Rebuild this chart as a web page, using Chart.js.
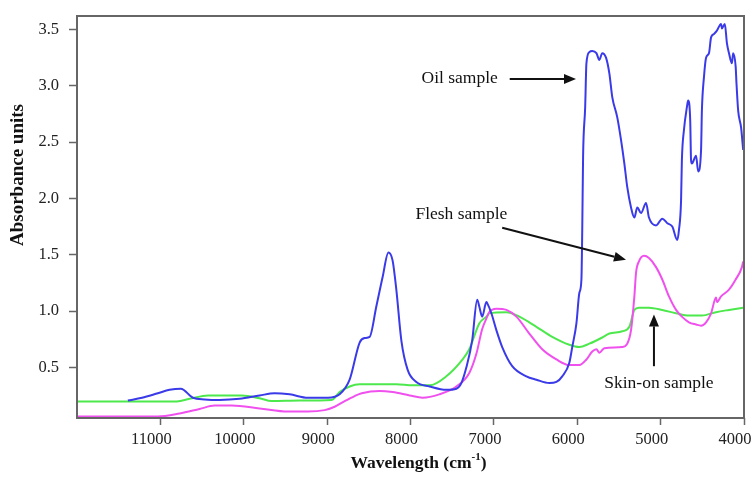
<!DOCTYPE html>
<html>
<head>
<meta charset="utf-8">
<script src="https://cdn.jsdelivr.net/npm/chart.js@4.4.1/dist/chart.umd.min.js"></script>
<style>
  html, body { margin: 0; padding: 0; background: #fff; }
  #wrap { width: 755px; height: 477px; }
</style>
</head>
<body>
<div id="wrap"><canvas id="nirChart" width="755" height="477"></canvas></div>
<script>
// NIR spectra: wavenumber (cm-1) against absorbance
const oilWave = [11390, 11220, 11030, 10890, 10755, 10610, 10470, 10290, 10050, 9810, 9630, 9450, 9230, 8990,
  8850, 8730, 8610, 8550, 8490, 8410, 8335, 8265, 8215, 8170, 8110, 8035, 7930, 7770, 7570, 7450, 7390, 7330,
  7260, 7200, 7175, 7140, 7090, 7080, 7030, 6970, 6900, 6780, 6610, 6490, 6335, 6250, 6180, 6095, 6060, 6010,
  5975, 5950, 5940, 5930, 5905, 5890, 5855, 5820, 5770, 5735, 5700, 5655, 5615, 5580, 5520, 5475, 5435, 5400,
  5355, 5315, 5280, 5235, 5175, 5140, 5055, 4980, 4920, 4860, 4800, 4780, 4755, 4745, 4720, 4685, 4670, 4645,
  4635, 4625, 4575, 4550, 4515, 4505, 4480, 4455, 4420, 4395, 4360, 4325, 4275, 4265, 4230, 4205, 4180, 4145,
  4130, 4100, 4090, 4070, 4035, 4010];
const oilAbs = [0.205, 0.23, 0.27, 0.30, 0.31, 0.23, 0.215, 0.21, 0.22, 0.25, 0.27, 0.26, 0.23, 0.23,
  0.26, 0.39, 0.72, 0.76, 0.77, 1.04, 1.30, 1.52, 1.45, 1.19, 0.74, 0.48, 0.37, 0.33, 0.30, 0.31, 0.36, 0.50,
  0.74, 1.10, 1.04, 0.95, 1.08, 1.07, 0.98, 0.83, 0.68, 0.51, 0.42, 0.39, 0.36, 0.37, 0.42, 0.54, 0.68, 0.89,
  1.16, 1.28, 1.72, 2.37, 2.81, 3.20, 3.30, 3.31, 3.29, 3.23, 3.29, 3.25, 3.11, 2.90, 2.72, 2.52, 2.31, 2.10,
  1.92, 1.83, 1.92, 1.87, 1.96, 1.83, 1.76, 1.82, 1.78, 1.75, 1.63, 1.72, 1.98, 2.34, 2.61, 2.81, 2.87, 2.69,
  2.34, 2.31, 2.38, 2.24, 2.43, 2.78, 3.08, 3.25, 3.29, 3.43, 3.46, 3.49, 3.55, 3.51, 3.55, 3.38, 3.29, 3.20,
  3.29, 3.17, 3.02, 2.78, 2.63, 2.43];

const fleshWave = [12000, 11030, 10770, 10530, 10350, 10145, 9810, 9470, 9230, 9030, 8910, 8790, 8670, 8585,
  8370, 8215, 8010, 7855, 7655, 7450, 7295, 7210, 7140, 7080, 7055, 6970, 6850, 6730, 6575, 6420, 6250, 6095,
  5975, 5890, 5820, 5770, 5735, 5675, 5460, 5400, 5355, 5315, 5295, 5260, 5200, 5140, 5055, 4980, 4900, 4815,
  4745, 4660, 4575, 4515, 4455, 4395, 4335, 4325, 4275, 4180, 4100, 4025, 4010];
const fleshAbs = [0.063, 0.063, 0.09, 0.13, 0.16, 0.16, 0.135, 0.107, 0.107, 0.12, 0.15, 0.20, 0.245, 0.27,
  0.29, 0.28, 0.25, 0.23, 0.26, 0.33, 0.45, 0.62, 0.84, 0.95, 0.99, 1.02, 1.01, 0.95, 0.80, 0.66, 0.57, 0.52,
  0.52, 0.57, 0.64, 0.66, 0.63, 0.67, 0.68, 0.71, 0.83, 1.13, 1.34, 1.44, 1.49, 1.47, 1.39, 1.28, 1.13, 1.01,
  0.95, 0.90, 0.88, 0.87, 0.90, 0.98, 1.12, 1.08, 1.13, 1.19, 1.28, 1.39, 1.44];

const skinWave = [12000, 10830, 10650, 10430, 10025, 9810, 9665, 9330, 8945, 8850, 8730, 8610, 8170, 7975,
  7770, 7570, 7375, 7295, 7175, 7090, 7055, 6850, 6695, 6490, 6300, 6095, 5975, 5855, 5700, 5615, 5460, 5375,
  5315, 5260, 5140, 4980, 4815, 4660, 4505, 4335, 4180, 4010];
const skinAbs = [0.196, 0.196, 0.22, 0.25, 0.25, 0.225, 0.20, 0.205, 0.21, 0.28, 0.33, 0.35, 0.35, 0.34,
  0.34, 0.42, 0.57, 0.66, 0.89, 0.95, 0.98, 0.99, 0.95, 0.86, 0.77, 0.70, 0.68, 0.71, 0.765, 0.80, 0.82, 0.86,
  1.01, 1.03, 1.03, 1.01, 0.98, 0.96, 0.96, 0.99, 1.01, 1.03];

const xTicks = [11000, 10000, 9000, 8000, 7000, 6000, 5000, 4000];
const yTicks = [0.5, 1.0, 1.5, 2.0, 2.5, 3.0, 3.5];

// callouts, placed in data units
const notes = [
  { label: 'Oil sample', text: [7410, 3.07], tail: [6810, 3.06], head: [6015, 3.06] },
  { label: 'Flesh sample', text: [7390, 1.86], tail: [6900, 1.74], head: [5415, 1.455] },
  { label: 'Skin-on sample', text: [5020, 0.36], tail: [5080, 0.51], head: [5080, 0.97] }
];

const serif = '"Liberation Serif", "Times New Roman", serif';
const frameColor = '#666';

const toPoints = (xs, ys) => xs.map((x, i) => ({ x, y: ys[i] }));

function arrow(ctx, x0, y0, x1, y1) {
  const ang = Math.atan2(y1 - y0, x1 - x0);
  const len = 12, half = 5;
  const bx = x1 - len * Math.cos(ang), by = y1 - len * Math.sin(ang);
  ctx.beginPath();
  ctx.moveTo(x0, y0);
  ctx.lineTo(bx, by);
  ctx.stroke();
  ctx.beginPath();
  ctx.moveTo(x1, y1);
  ctx.lineTo(bx + half * Math.sin(ang), by - half * Math.cos(ang));
  ctx.lineTo(bx - half * Math.sin(ang), by + half * Math.cos(ang));
  ctx.closePath();
  ctx.fill();
}

const decorations = {
  id: 'decorations',
  afterDraw(chart) {
    const { ctx, chartArea: a, scales: { x, y } } = chart;
    ctx.save();

    // box round the plot
    ctx.strokeStyle = frameColor;
    ctx.lineWidth = 2;
    ctx.strokeRect(a.left, a.top, a.right - a.left, a.bottom - a.top);

    // callouts
    ctx.fillStyle = '#111';
    ctx.strokeStyle = '#111';
    ctx.lineWidth = 2;
    ctx.font = '17.5px ' + serif;
    ctx.textAlign = 'center';
    ctx.textBaseline = 'middle';
    notes.forEach(n => {
      ctx.fillText(n.label, x.getPixelForValue(n.text[0]), y.getPixelForValue(n.text[1]));
      arrow(ctx,
        x.getPixelForValue(n.tail[0]), y.getPixelForValue(n.tail[1]),
        x.getPixelForValue(n.head[0]), y.getPixelForValue(n.head[1]));
    });

    // x axis title with superscript
    const main = 'Wavelength (cm', sup = '-1', close = ')';
    const bigFont = 'bold 17.5px ' + serif, smallFont = 'bold 11px ' + serif;
    ctx.font = bigFont;
    const w1 = ctx.measureText(main).width, w3 = ctx.measureText(close).width;
    ctx.font = smallFont;
    const w2 = ctx.measureText(sup).width;
    const total = w1 + w2 + w3;
    const cx = (a.left + a.right) / 2 + 8 - total / 2;
    const ty = a.bottom + 45;
    ctx.textAlign = 'left';
    ctx.textBaseline = 'middle';
    ctx.fillStyle = '#111';
    ctx.font = bigFont;
    ctx.fillText(main, cx, ty);
    ctx.font = smallFont;
    ctx.fillText(sup, cx + w1, ty - 6);
    ctx.font = bigFont;
    ctx.fillText(close, cx + w1 + w2, ty);

    // y axis title
    ctx.translate(18, a.top + 159);
    ctx.rotate(-Math.PI / 2);
    ctx.textAlign = 'center';
    ctx.font = 'bold 19px ' + serif;
    ctx.fillText('Absorbance units', 0, 0);

    ctx.restore();
  }
};

const lineStyle = {
  borderWidth: 2,
  pointRadius: 0,
  fill: false,
  cubicInterpolationMode: 'monotone'
};

new Chart(document.getElementById('nirChart'), {
  type: 'line',
  data: {
    datasets: [
      { label: 'Oil sample', data: toPoints(oilWave, oilAbs), borderColor: '#3a3ae8', ...lineStyle },
      { label: 'Flesh sample', data: toPoints(fleshWave, fleshAbs), borderColor: '#f050ee', ...lineStyle },
      { label: 'Skin-on sample', data: toPoints(skinWave, skinAbs), borderColor: '#4ce84c', ...lineStyle }
    ]
  },
  options: {
    responsive: false,
    devicePixelRatio: 1,
    animation: false,
    layout: { padding: { left: 0, top: 16, right: 11, bottom: 0 } },
    plugins: {
      legend: { display: false },
      tooltip: { enabled: false }
    },
    scales: {
      x: {
        type: 'linear',
        reverse: true,
        min: 4000,
        max: 12000,
        afterFit: s => {
          s.height = 59;
          s.paddingLeft = 0;
          s.paddingRight = 0;
        },
        afterBuildTicks: s => { s.ticks = xTicks.map(v => ({ value: v })); },
        border: { display: false },
        grid: { drawOnChartArea: false, tickLength: 7, tickColor: frameColor, tickWidth: 1.5 },
        ticks: {
          font: { family: serif, size: 16.5 },
          color: '#222',
          padding: 5,
          labelOffset: -9,
          maxRotation: 0,
          callback: v => String(v)
        }
      },
      y: {
        type: 'linear',
        min: 0.05,
        max: 3.62,
        afterFit: s => {
          s.width = 77;
          s.paddingTop = 0;
          s.paddingBottom = 0;
        },
        afterBuildTicks: s => { s.ticks = yTicks.map(v => ({ value: v })); },
        border: { display: false },
        grid: { drawOnChartArea: false, tickLength: 8, tickColor: frameColor, tickWidth: 1.5 },
        ticks: {
          font: { family: serif, size: 16.5 },
          color: '#222',
          padding: 10,
          callback: v => v.toFixed(1)
        }
      }
    }
  },
  plugins: [decorations]
});
</script>
</body>
</html>
